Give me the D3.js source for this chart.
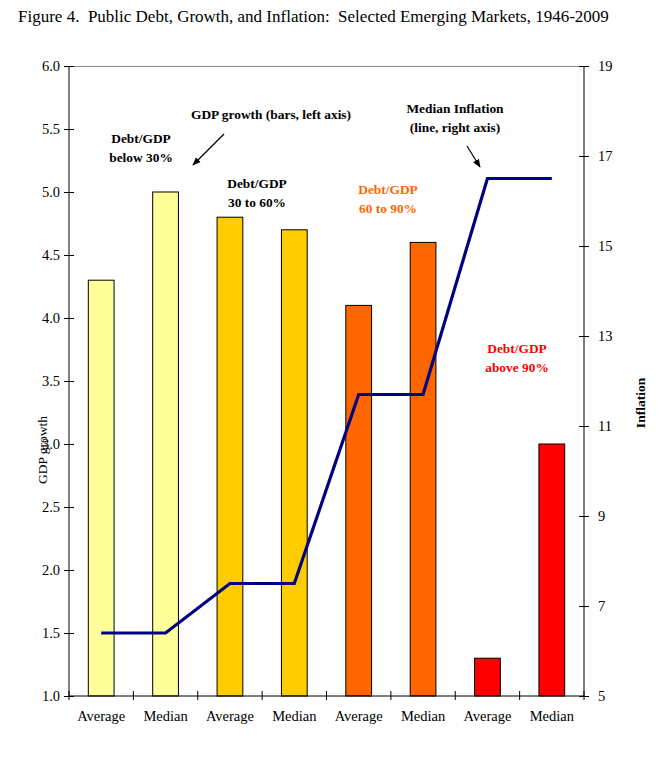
<!DOCTYPE html>
<html><head><meta charset="utf-8">
<script src="https://cdn.jsdelivr.net/npm/d3@7"></script>
<style>body{margin:0;background:#fff}svg{display:block;font-family:"Liberation Serif","Times New Roman",serif}</style>
</head><body><svg id="c" width="667" height="781"></svg>
<script>
const categories = ["Average","Median","Average","Median","Average","Median","Average","Median"];
const gdpGrowth = [4.3, 5.0, 4.8, 4.7, 4.1, 4.6, 1.3, 3.0];
const medianInflation = [6.4, 6.4, 7.5, 7.5, 11.7, 11.7, 16.5, 16.5];
const barColors = ["#FFFF99","#FFFF99","#FFCC00","#FFCC00","#FF6600","#FF6600","#FF0000","#FF0000"];
const leftTicks = [1.0,1.5,2.0,2.5,3.0,3.5,4.0,4.5,5.0,5.5,6.0];
const rightTicks = [5,7,9,11,13,15,17,19];

const svg = d3.select("#c");
const L = 69, R = 584, T = 66, B = 696;
const FF = '"Liberation Serif","Times New Roman",serif';
const x = d3.scaleBand().domain(d3.range(categories.length)).range([L, R]).paddingInner(0.6).paddingOuter(0.3);
const xc = i => x(i) + x.bandwidth()/2;
const yL = d3.scaleLinear().domain([1, 6]).range([B, T]);
const yR = d3.scaleLinear().domain([5, 19]).range([B, T]);

svg.append("text").attr("x", 18).attr("y", 22).attr("font-size", 17).style("white-space","pre")
  .text("Figure 4.  Public Debt, Growth, and Inflation:  Selected Emerging Markets, 1946-2009");

// top border
svg.append("line").attr("x1", L).attr("x2", R).attr("y1", T+0.5).attr("y2", T+0.5).attr("stroke", "#888").attr("stroke-width", 1);

// bars
svg.append("g").selectAll("rect").data(gdpGrowth).join("rect")
  .attr("x", (d,i) => x(i)).attr("width", x.bandwidth())
  .attr("y", d => yL(d)).attr("height", d => B - yL(d))
  .attr("fill", (d,i) => barColors[i]).attr("stroke", "#000").attr("stroke-width", 1);

// left axis
const gl = svg.append("g").attr("transform", `translate(${L},0)`)
  .call(d3.axisLeft(yL).tickValues(leftTicks).tickFormat(d3.format(".1f")).tickSize(5));
gl.attr("font-family", FF).attr("font-size", 14.5);
gl.select(".domain").attr("stroke", "#000").attr("d", `M0,${T}V${B}`);
gl.selectAll("text").attr("fill", "#000").attr("x", -9);
gl.selectAll(".tick line").attr("x1", 5).attr("x2", -5);

// right axis
const gr = svg.append("g").attr("transform", `translate(${R},0)`)
  .call(d3.axisRight(yR).tickValues(rightTicks).tickSize(5));
gr.attr("font-family", FF).attr("font-size", 14.5);
gr.select(".domain").attr("stroke", "#000").attr("d", `M0,${T}V${B}`);
gr.selectAll("text").attr("fill", "#000").attr("x", 14);
gr.selectAll(".tick line").attr("x1", -5).attr("x2", 5);

// bottom axis
const bx = d3.scaleLinear().domain([0, categories.length]).range([L, R]);
const gb = svg.append("g").attr("transform", `translate(0,${B})`);
gb.append("line").attr("x1", L).attr("x2", R).attr("stroke", "#000");
gb.selectAll("line.t").data(d3.range(categories.length+1)).join("line").attr("class","t")
  .attr("x1", d => bx(d)).attr("x2", d => bx(d)).attr("y1", -5).attr("y2", 4).attr("stroke", "#000");
gb.selectAll("text").data(categories).join("text")
  .attr("x", (d,i) => xc(i)).attr("y", 25).attr("text-anchor", "middle").attr("font-size", 14.5).text(d => d);

// line
svg.append("path").datum(medianInflation)
  .attr("d", d3.line().x((d,i) => xc(i)).y(d => yR(d)))
  .attr("fill", "none").attr("stroke", "#000080").attr("stroke-width", 3.2);

// axis titles
svg.append("text").attr("transform", "translate(47,450) rotate(-90)").attr("text-anchor", "middle").attr("font-size", 13.5).text("GDP growth");
svg.append("text").attr("transform", "translate(645,403) rotate(-90)").attr("text-anchor", "middle").attr("font-size", 13.5).attr("font-weight", "bold").text("Inflation");

// annotations
function ann(lines, cx, y0, color) {
  lines.forEach((t, k) => svg.append("text").attr("x", cx).attr("y", y0 + k*19)
    .attr("text-anchor", "middle").attr("font-size", 13.4).attr("font-weight", "bold").attr("fill", color).text(t));
}
ann(["GDP growth (bars, left axis)"], 271, 119, "#000");
ann(["Debt/GDP", "below 30%"], 141, 143, "#000");
ann(["Debt/GDP", "30 to 60%"], 257, 188, "#000");
ann(["Debt/GDP", "60 to 90%"], 388, 194, "#FF6600");
ann(["Median Inflation", "(line, right axis)"], 455, 113, "#000");
ann(["Debt/GDP", "above 90%"], 517, 353, "#FF0000");

svg.append("defs").append("marker").attr("id", "ah").attr("viewBox", "0 0 10 10").attr("refX", 9).attr("refY", 5)
  .attr("markerWidth", 7).attr("markerHeight", 7).attr("orient", "auto")
  .append("path").attr("d", "M0,1L10,5L0,9Z").attr("fill", "#000");
svg.append("line").attr("x1", 224).attr("y1", 134).attr("x2", 193).attr("y2", 165).attr("stroke", "#000").attr("stroke-width", 1.2).attr("marker-end", "url(#ah)");
svg.append("line").attr("x1", 467).attr("y1", 146).attr("x2", 480).attr("y2", 167).attr("stroke", "#000").attr("stroke-width", 1.2).attr("marker-end", "url(#ah)");
</script></body></html>
